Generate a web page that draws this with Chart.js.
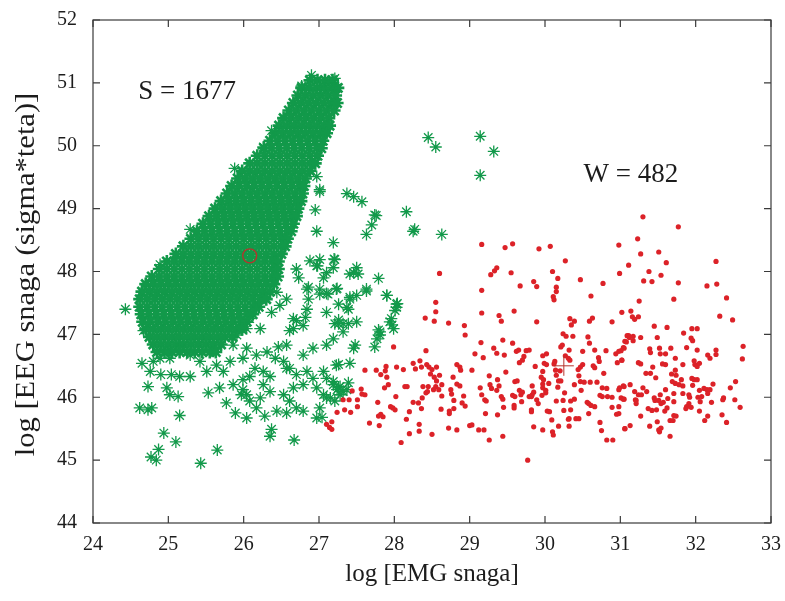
<!DOCTYPE html>
<html>
<head>
<meta charset="utf-8">
<script src="https://cdn.jsdelivr.net/npm/chart.js@4.4.1/dist/chart.umd.min.js"></script>
<style>
  html, body { margin: 0; padding: 0; background: #fff; }
  #wrap { width: 785px; height: 601px; }
</style>
</head>
<body>
<div id="wrap"><canvas id="chart" width="785" height="601"></canvas></div>
<script>
// axis ticks
const xTicks = [24, 25, 26, 27, 28, 29, 30, 31, 32, 33];
const yTicks = [44, 45, 46, 47, 48, 49, 50, 51, 52];

// sleep (S) - dense core, one row per EEG level: [eeg, [emg values...]]
const sleepRows = [
  [51.04, [26.88, 26.98, 27.08, 27.18]],
  [50.92, [26.77, 26.87, 26.97, 27.07, 27.17, 27.25]],
  [50.80, [26.72, 26.82, 26.92, 27.02, 27.12, 27.22]],
  [50.68, [26.66, 26.76, 26.86, 26.96, 27.06, 27.16, 27.24]],
  [50.56, [26.60, 26.70, 26.80, 26.90, 27.00, 27.10, 27.20]],
  [50.44, [26.53, 26.63, 26.73, 26.83, 26.93, 27.03, 27.13]],
  [50.32, [26.47, 26.57, 26.67, 26.77, 26.87, 26.97, 27.07, 27.14]],
  [50.20, [26.42, 26.52, 26.62, 26.72, 26.82, 26.92, 27.02, 27.10]],
  [50.08, [26.35, 26.45, 26.55, 26.65, 26.75, 26.85, 26.95, 27.05]],
  [49.96, [26.27, 26.37, 26.47, 26.57, 26.67, 26.77, 26.87, 26.97, 27.03]],
  [49.84, [26.18, 26.28, 26.38, 26.48, 26.58, 26.68, 26.78, 26.88, 26.98]],
  [49.72, [26.08, 26.18, 26.28, 26.38, 26.48, 26.58, 26.68, 26.78, 26.88, 26.95]],
  [49.60, [25.98, 26.08, 26.18, 26.28, 26.38, 26.48, 26.58, 26.68, 26.78, 26.88]],
  [49.48, [25.92, 26.02, 26.12, 26.22, 26.32, 26.42, 26.52, 26.62, 26.72, 26.82]],
  [49.36, [25.84, 25.94, 26.04, 26.14, 26.24, 26.34, 26.44, 26.54, 26.64, 26.74, 26.80]],
  [49.24, [25.78, 25.88, 25.98, 26.08, 26.18, 26.28, 26.38, 26.48, 26.58, 26.68, 26.78]],
  [49.12, [25.70, 25.80, 25.90, 26.00, 26.10, 26.20, 26.30, 26.40, 26.50, 26.60, 26.70, 26.76]],
  [49.00, [25.62, 25.72, 25.82, 25.92, 26.02, 26.12, 26.22, 26.32, 26.42, 26.52, 26.62, 26.72]],
  [48.88, [25.54, 25.64, 25.74, 25.84, 25.94, 26.04, 26.14, 26.24, 26.34, 26.44, 26.54, 26.64, 26.70]],
  [48.76, [25.46, 25.56, 25.66, 25.76, 25.86, 25.96, 26.06, 26.16, 26.26, 26.36, 26.46, 26.56, 26.66]],
  [48.64, [25.38, 25.48, 25.58, 25.68, 25.78, 25.88, 25.98, 26.08, 26.18, 26.28, 26.38, 26.48, 26.58, 26.63]],
  [48.52, [25.30, 25.40, 25.50, 25.60, 25.70, 25.80, 25.90, 26.00, 26.10, 26.20, 26.30, 26.40, 26.50, 26.58]],
  [48.40, [25.20, 25.30, 25.40, 25.50, 25.60, 25.70, 25.80, 25.90, 26.00, 26.10, 26.20, 26.30, 26.40, 26.50, 26.55]],
  [48.28, [25.10, 25.20, 25.30, 25.40, 25.50, 25.60, 25.70, 25.80, 25.90, 26.00, 26.10, 26.20, 26.30, 26.40, 26.50]],
  [48.16, [24.98, 25.08, 25.18, 25.28, 25.38, 25.48, 25.58, 25.68, 25.78, 25.88, 25.98, 26.08, 26.18, 26.28, 26.38, 26.46]],
  [48.04, [24.88, 24.98, 25.08, 25.18, 25.28, 25.38, 25.48, 25.58, 25.68, 25.78, 25.88, 25.98, 26.08, 26.18, 26.28, 26.38, 26.46]],
  [47.92, [24.78, 24.88, 24.98, 25.08, 25.18, 25.28, 25.38, 25.48, 25.58, 25.68, 25.78, 25.88, 25.98, 26.08, 26.18, 26.28, 26.38, 26.45]],
  [47.80, [24.70, 24.80, 24.90, 25.00, 25.10, 25.20, 25.30, 25.40, 25.50, 25.60, 25.70, 25.80, 25.90, 26.00, 26.10, 26.20, 26.30, 26.40]],
  [47.68, [24.65, 24.75, 24.85, 24.95, 25.05, 25.15, 25.25, 25.35, 25.45, 25.55, 25.65, 25.75, 25.85, 25.95, 26.05, 26.15, 26.25, 26.35]],
  [47.56, [24.62, 24.72, 24.82, 24.92, 25.02, 25.12, 25.22, 25.32, 25.42, 25.52, 25.62, 25.72, 25.82, 25.92, 26.02, 26.12, 26.22, 26.30]],
  [47.44, [24.62, 24.72, 24.82, 24.92, 25.02, 25.12, 25.22, 25.32, 25.42, 25.52, 25.62, 25.72, 25.82, 25.92, 26.02, 26.12, 26.20]],
  [47.32, [24.64, 24.74, 24.84, 24.94, 25.04, 25.14, 25.24, 25.34, 25.44, 25.54, 25.64, 25.74, 25.84, 25.94, 26.04, 26.12]],
  [47.20, [24.66, 24.76, 24.86, 24.96, 25.06, 25.16, 25.26, 25.36, 25.46, 25.56, 25.66, 25.76, 25.86, 25.96, 26.04]],
  [47.08, [24.70, 24.80, 24.90, 25.00, 25.10, 25.20, 25.30, 25.40, 25.50, 25.60, 25.70, 25.80, 25.90, 25.98]],
  [46.96, [24.75, 24.85, 24.95, 25.05, 25.15, 25.25, 25.35, 25.45, 25.55, 25.65, 25.75, 25.85]],
  [46.84, [24.80, 24.90, 25.00, 25.10, 25.20, 25.30, 25.40, 25.50, 25.60, 25.70]],
  [46.72, [24.85, 24.95, 25.05, 25.15, 25.25, 25.35, 25.45, 25.55, 25.63]]
];

// sleep (S) - scattered points outside the core: [emg, eeg]
const sleepScatter = [
  [26.90, 51.12], [27.21, 51.07], [27.12, 51.02], [27.23, 50.92], [26.77, 50.95], [27.06, 50.90],
  [26.37, 50.24], [26.26, 49.98], [25.88, 49.64], [27.01, 49.30], [26.97, 49.51], [26.95, 48.98],
  [27.37, 49.24], [27.46, 49.19], [27.57, 49.11], [25.29, 48.67], [26.97, 48.64], [27.74, 48.90],
  [27.70, 48.74], [27.63, 48.59], [28.16, 48.95], [28.25, 48.64], [27.19, 48.46], [27.21, 48.19],
  [26.88, 48.17], [27.01, 48.19], [27.50, 48.06], [24.89, 48.11], [28.45, 50.13], [28.55, 49.98],
  [29.14, 50.15], [29.32, 49.91], [29.14, 49.53], [27.01, 49.27], [28.63, 48.59], [27.52, 47.96],
  [27.79, 47.89], [27.63, 47.69], [27.90, 47.62], [28.03, 47.48], [28.01, 47.38], [27.94, 47.20],
  [27.99, 47.09], [27.81, 47.04], [27.41, 47.59], [27.37, 47.43], [27.10, 47.35], [27.21, 47.17],
  [27.39, 47.17], [26.86, 47.56], [27.01, 47.64], [26.84, 47.72], [26.70, 47.22], [26.82, 47.27],
  [26.66, 47.09], [26.73, 47.90], [26.98, 48.09], [24.43, 47.40], [24.67, 47.06], [24.65, 46.54],
  [24.73, 46.17], [24.62, 45.83], [24.73, 45.80], [24.78, 45.83], [25.15, 45.71], [24.94, 45.43],
  [25.10, 45.29], [24.87, 45.17], [24.77, 45.05], [24.84, 45.00], [25.43, 44.95], [25.65, 45.16],
  [25.02, 46.04], [25.13, 46.01], [24.90, 46.36], [25.04, 46.36], [25.15, 46.33], [25.29, 46.33],
  [24.98, 46.15], [25.53, 46.07], [25.68, 46.15], [25.77, 45.91], [25.89, 45.75], [26.04, 45.67],
  [25.97, 46.04], [25.99, 46.12], [25.86, 46.20], [25.99, 46.28], [26.08, 46.33], [26.15, 46.46],
  [26.26, 46.41], [26.35, 46.33], [26.28, 45.70], [26.37, 45.49], [26.35, 45.38], [26.67, 45.32],
  [26.44, 45.78], [26.57, 45.75], [26.70, 45.83], [26.79, 45.78], [26.97, 45.67], [27.01, 45.83],
  [27.15, 45.99], [27.26, 46.15], [27.32, 46.09], [26.61, 46.46], [26.70, 46.36], [26.84, 46.41],
  [26.92, 46.30], [27.06, 46.41], [26.79, 46.20], [26.66, 46.15], [26.53, 46.04], [26.61, 45.94],
  [27.06, 46.04], [26.97, 46.15], [27.19, 46.25], [27.28, 46.17], [27.37, 46.12], [26.26, 46.20],
  [26.35, 46.09], [26.22, 45.99], [26.08, 45.94], [26.17, 45.83], [26.04, 46.04], [26.53, 46.57],
  [26.57, 46.46], [26.79, 46.67], [26.92, 46.78], [27.23, 46.51], [27.41, 46.54], [27.46, 46.78],
  [27.10, 46.83], [27.19, 46.93], [27.32, 47.17], [27.32, 47.04], [27.48, 46.83], [27.50, 47.20],
  [27.77, 46.93], [27.74, 46.80], [27.81, 46.99], [27.96, 47.25], [28.03, 47.43], [27.90, 47.62],
  [27.63, 47.72], [27.50, 47.62], [27.41, 47.56], [27.46, 47.98], [27.26, 47.48], [27.39, 47.40],
  [27.26, 47.17], [26.84, 47.40], [26.66, 47.25], [26.79, 47.14], [26.61, 47.06], [26.57, 46.83],
  [26.46, 46.80], [26.42, 46.62], [26.31, 46.72], [26.70, 48.04], [26.97, 48.09], [27.10, 47.98],
  [27.19, 48.06], [26.86, 47.75], [27.01, 47.72], [27.12, 47.64], [27.23, 47.72], [27.06, 47.90],
  [26.44, 47.67], [26.57, 47.56], [26.48, 47.46], [26.37, 47.35], [26.17, 47.40], [26.08, 47.25],
  [26.04, 47.09], [26.22, 47.09], [25.91, 46.99], [25.86, 46.83], [26.04, 46.78], [26.17, 46.67],
  [25.99, 46.62], [25.82, 46.57], [25.73, 46.41], [25.64, 46.51], [25.51, 46.41], [25.42, 46.57],
  [25.29, 46.67], [25.15, 46.78], [25.02, 46.62], [24.80, 46.57], [24.76, 46.41], [24.89, 46.62],
  [24.98, 46.72], [27.26, 46.52], [27.10, 46.30], [27.19, 46.20], [27.24, 46.12], [27.28, 46.04],
  [27.39, 46.23], [27.10, 45.99], [27.21, 45.94], [27.04, 45.68], [27.76, 48.89], [28.27, 48.67],
  [27.20, 48.20], [27.41, 47.96], [28.04, 47.49], [27.24, 47.73], [27.10, 47.65], [27.97, 47.15],
  [27.26, 47.23], [27.79, 47.07]
];

// wake (W) points: [emg, eeg]
const wakePoints = [
  [28.60, 47.97], [28.55, 47.51], [28.55, 47.36], [28.41, 47.26], [28.53, 47.21], [28.72, 47.18], [28.93, 47.14],
  [29.16, 48.43], [29.47, 48.38], [29.57, 48.44], [29.92, 48.36], [30.07, 48.40], [30.27, 48.17], [29.28, 47.95],
  [29.33, 48.01], [29.36, 48.06], [29.55, 47.98], [30.10, 48.00], [30.17, 47.89], [30.47, 47.87], [30.77, 47.81],
  [29.16, 47.70], [29.67, 47.77], [29.85, 47.84], [29.89, 47.76], [30.15, 47.75], [30.15, 47.68], [30.11, 47.60],
  [30.12, 47.55], [30.61, 47.61], [30.98, 48.42], [30.99, 47.97], [29.16, 47.34], [29.39, 47.30], [29.42, 47.21],
  [29.59, 47.37], [29.89, 47.20], [30.33, 47.25], [30.39, 47.21], [30.35, 47.15], [30.59, 47.21], [30.63, 47.26],
  [30.89, 47.20],
  [31.30, 48.87], [31.77, 48.71], [31.23, 48.52], [31.27, 48.28], [31.51, 48.31], [31.61, 48.14], [31.11, 48.10],
  [32.27, 48.16], [31.38, 48.00], [31.54, 47.94], [31.31, 47.85], [31.42, 47.84], [31.77, 47.82], [32.15, 47.77],
  [32.28, 47.80], [31.25, 47.53], [31.71, 47.56], [32.41, 47.58], [31.02, 47.35], [31.14, 47.37], [31.16, 47.28],
  [31.19, 47.24], [31.24, 47.28], [32.32, 47.29], [32.49, 47.23], [31.45, 47.13], [31.62, 47.11], [31.95, 47.09],
  [32.02, 47.09],
  [28.94, 46.99], [27.99, 46.80], [28.42, 46.74], [27.61, 46.43], [27.76, 46.43], [27.82, 46.36], [27.88, 46.42],
  [27.89, 46.49], [27.90, 46.32], [28.03, 46.48], [28.12, 46.44], [28.25, 46.54], [28.34, 46.58], [28.36, 46.48],
  [28.28, 46.45], [28.43, 46.52], [28.46, 46.48], [28.50, 46.44], [28.56, 46.48], [28.48, 46.37], [28.53, 46.32],
  [28.56, 46.26], [28.60, 46.35], [28.63, 46.20], [28.55, 46.17], [28.59, 46.12], [28.52, 46.12], [28.45, 46.17],
  [28.38, 46.17], [28.42, 46.07], [28.37, 45.99], [28.25, 45.92], [28.32, 45.91], [28.36, 45.82], [28.20, 45.77],
  [28.16, 45.65], [28.33, 45.57], [28.33, 45.46], [28.20, 45.42], [28.50, 45.41], [28.09, 45.28], [28.14, 46.17],
  [28.17, 46.17], [28.02, 46.01], [27.95, 45.85], [27.98, 45.83], [28.01, 45.80], [27.78, 45.92], [27.82, 45.73],
  [27.85, 45.69], [27.79, 45.70], [27.67, 45.59], [27.80, 45.55], [27.87, 46.15], [27.92, 46.20], [27.61, 46.04],
  [27.57, 46.05], [27.56, 46.13], [27.51, 45.96], [27.51, 45.85], [27.40, 45.96], [27.42, 45.76], [27.34, 45.80],
  [27.24, 45.76], [27.44, 46.10], [27.32, 45.96], [27.17, 45.61], [27.10, 45.57], [27.14, 45.52], [27.17, 45.49],
  [28.63, 46.02], [28.75, 46.12], [28.76, 46.05], [28.78, 46.32], [28.83, 46.52], [28.87, 46.48], [28.88, 46.43],
  [28.83, 46.21], [28.87, 46.18], [28.92, 46.02], [28.79, 45.95], [28.90, 45.91], [28.94, 45.86], [28.79, 45.82],
  [28.73, 45.74], [28.73, 45.78], [28.62, 45.81], [28.72, 45.51], [28.83, 45.48], [29.00, 45.55], [28.44, 46.09],
  [29.15, 46.87], [29.44, 46.91], [29.57, 46.86], [29.32, 46.78], [29.36, 46.70], [29.07, 46.69], [29.18, 46.63],
  [29.46, 46.67], [29.62, 46.73], [29.65, 46.75], [29.75, 46.74], [29.79, 46.75], [29.72, 46.65], [29.70, 46.59],
  [29.66, 46.55], [29.97, 46.66], [30.02, 46.69], [29.99, 46.54], [30.02, 46.52], [30.12, 46.53], [30.13, 46.57],
  [30.24, 47.01], [30.28, 46.97], [30.37, 46.97], [30.57, 46.96], [30.59, 46.86], [30.21, 46.80], [30.23, 46.83],
  [30.32, 46.75], [30.27, 46.66], [30.31, 46.62], [30.33, 46.59], [30.50, 46.73], [30.66, 46.75], [30.81, 46.74],
  [30.71, 46.63], [30.72, 46.57], [30.50, 46.52], [30.47, 46.48], [30.44, 46.44], [30.64, 46.50], [30.66, 46.47],
  [30.78, 46.38], [30.94, 46.69], [30.98, 46.73], [31.05, 46.78], [31.08, 46.88], [31.11, 46.98], [31.02, 46.59],
  [30.96, 46.55], [29.03, 46.43], [29.26, 46.34], [29.37, 46.28], [29.48, 46.40], [29.60, 46.25], [29.63, 46.26],
  [29.27, 46.20], [29.29, 46.14], [29.39, 46.18], [29.36, 46.11], [29.14, 46.15], [29.16, 46.04], [29.20, 45.96],
  [29.22, 45.94], [29.42, 46.01], [29.44, 45.97], [29.45, 45.84], [29.57, 46.03], [29.60, 46.01], [29.66, 46.11],
  [29.70, 46.08], [29.68, 46.04], [29.69, 45.93], [29.59, 45.87], [29.59, 45.83], [29.83, 46.18], [29.85, 46.08],
  [29.79, 46.01], [29.82, 46.01], [29.83, 46.04], [29.89, 45.96], [29.91, 45.90], [29.96, 46.03], [29.97, 46.15],
  [29.97, 46.21], [30.01, 46.11], [30.01, 46.07], [29.95, 46.32], [29.98, 46.28], [30.05, 46.22], [29.97, 46.41],
  [30.14, 46.43], [30.20, 46.42], [30.15, 46.35], [30.18, 46.26], [30.21, 46.26], [30.17, 46.16], [30.26, 46.07],
  [30.15, 45.94], [30.24, 45.95], [30.39, 46.20], [30.47, 46.25], [30.45, 46.34], [30.52, 46.24], [30.60, 46.24],
  [30.48, 46.11], [30.39, 45.97], [30.34, 45.94], [30.56, 45.92], [30.58, 45.90], [30.61, 45.87], [30.66, 45.85],
  [30.69, 46.24], [30.76, 46.15], [30.82, 46.14], [30.73, 46.03], [30.76, 46.01], [30.83, 46.01], [30.89, 46.00],
  [30.98, 46.12], [30.99, 46.15], [31.05, 46.17], [31.01, 45.99], [31.05, 45.97], [30.98, 45.85], [30.95, 45.73],
  [30.98, 45.74], [30.89, 45.84], [31.06, 45.50], [29.03, 45.56], [29.21, 45.74], [29.37, 45.72], [29.12, 45.48],
  [29.19, 45.48], [29.26, 45.32], [29.44, 45.38], [29.82, 45.80], [29.82, 45.77], [29.85, 45.53], [29.97, 45.48],
  [30.03, 45.78], [30.06, 45.77], [30.09, 45.64], [30.10, 45.45], [30.11, 45.40], [30.18, 45.54], [30.25, 45.79],
  [30.32, 45.66], [30.31, 45.65], [30.32, 45.54], [30.34, 45.80], [30.41, 45.66], [30.45, 45.66], [30.58, 45.74],
  [30.73, 45.60], [30.75, 45.47], [30.82, 45.32], [30.90, 45.32], [29.77, 45.00], [29.87, 46.49],
  [31.09, 46.98], [31.12, 46.95], [31.17, 46.97], [31.17, 46.90], [31.27, 46.95], [31.49, 46.95], [31.84, 47.02],
  [31.94, 46.94], [31.96, 46.90], [31.06, 46.89], [31.04, 46.79], [31.01, 46.74], [31.02, 46.59], [31.39, 46.77],
  [31.40, 46.71], [31.52, 46.78], [31.53, 46.69], [31.60, 46.69], [31.67, 46.78], [31.73, 46.62], [31.88, 46.79],
  [32.02, 46.75], [32.16, 46.67], [32.19, 46.62], [32.27, 46.75], [32.27, 46.68], [32.63, 46.81], [32.62, 46.61],
  [31.24, 46.55], [31.27, 46.53], [31.43, 46.48], [31.56, 46.53], [31.60, 46.52], [31.83, 46.52], [31.98, 46.58],
  [31.99, 46.52], [32.02, 46.49], [32.05, 46.54], [31.34, 46.38], [31.40, 46.38], [31.47, 46.31], [31.68, 46.37],
  [31.73, 46.43], [31.74, 46.35], [31.69, 46.25], [31.73, 46.22], [31.78, 46.20], [31.83, 46.18], [31.81, 46.28],
  [31.95, 46.30], [31.98, 46.28], [32.02, 46.28], [31.96, 46.19], [32.11, 46.14], [32.15, 46.12], [32.19, 46.12],
  [32.23, 46.21], [32.05, 46.11], [32.03, 46.00], [32.08, 46.01], [32.16, 46.06], [31.91, 46.04], [31.92, 46.00],
  [31.91, 45.90], [31.88, 45.85], [31.87, 45.82], [31.94, 45.84], [32.06, 45.93], [32.05, 45.78], [32.21, 45.92],
  [32.16, 45.70], [32.12, 45.63], [32.36, 45.96], [32.37, 45.99], [32.46, 46.15], [32.53, 46.25], [32.52, 45.96],
  [32.59, 45.84], [32.35, 45.72], [32.41, 45.60], [31.04, 46.18], [31.19, 46.09], [31.24, 46.04], [31.28, 46.04],
  [31.20, 45.96], [31.21, 45.95], [31.21, 45.90], [31.35, 46.09], [31.30, 46.15], [31.13, 46.20], [31.45, 45.99],
  [31.46, 45.95], [31.51, 45.95], [31.53, 46.04], [31.54, 45.90], [31.57, 45.92], [31.60, 46.12], [31.63, 45.98],
  [31.71, 46.06], [31.83, 46.06], [31.71, 45.93], [31.37, 45.82], [31.42, 45.79], [31.48, 45.80], [31.59, 45.78],
  [31.62, 45.83], [31.27, 45.70], [31.49, 45.61], [31.66, 45.63], [31.70, 45.63], [31.71, 45.71], [31.74, 45.70],
  [31.39, 45.54], [31.51, 45.48], [31.54, 45.51], [31.52, 45.45], [31.66, 45.38], [31.06, 45.50], [31.13, 45.55],
  [31.04, 45.97]
];

// class centres
const sleepCentre = [26.08, 48.25];
const wakeCentre = [30.25, 46.50];

const sleepLabel = 'S = 1677';
const wakeLabel = 'W = 482';
const sleepLabelAt = [24.60, 50.85];
const wakeLabelAt = [30.51, 49.53];
const yTitle = 'log [EEG snaga (sigma*teta)]';

const serif = '"Liberation Serif", "Times New Roman", serif';
const GREEN = '#12994a';
const RED = '#dc2228';

const toXY = p => ({ x: p[0], y: p[1] });
const coreData = [];
sleepRows.forEach(r => r[1].forEach(v => coreData.push({ x: v, y: r[0] })));

// matlab-like box with inward ticks + the S/W counts + the (wide) y title
const boxPlugin = {
  id: 'boxPlugin',
  afterDatasetsDraw(chart) {
    const { ctx, chartArea: a, scales: { x, y } } = chart;
    ctx.save();
    ctx.strokeStyle = '#3a3a3a';
    ctx.lineWidth = 1.2;
    ctx.strokeRect(a.left, a.top, a.right - a.left, a.bottom - a.top);
    ctx.beginPath();
    xTicks.forEach(v => {
      const px = x.getPixelForValue(v);
      ctx.moveTo(px, a.bottom); ctx.lineTo(px, a.bottom - 7);
      ctx.moveTo(px, a.top); ctx.lineTo(px, a.top + 7);
    });
    yTicks.forEach(v => {
      const py = y.getPixelForValue(v);
      ctx.moveTo(a.left, py); ctx.lineTo(a.left + 7, py);
      ctx.moveTo(a.right, py); ctx.lineTo(a.right - 7, py);
    });
    ctx.stroke();

    ctx.fillStyle = '#1c1c1c';
    ctx.font = '27px ' + serif;
    ctx.textBaseline = 'middle';
    ctx.textAlign = 'left';
    ctx.fillText(sleepLabel, x.getPixelForValue(sleepLabelAt[0]), y.getPixelForValue(sleepLabelAt[1]));
    ctx.fillText(wakeLabel, x.getPixelForValue(wakeLabelAt[0]), y.getPixelForValue(wakeLabelAt[1]));

    ctx.translate(27, (a.top + a.bottom) / 2 + 3);
    ctx.rotate(-Math.PI / 2);
    ctx.scale(1.13, 1);
    ctx.textAlign = 'center';
    ctx.fillText(yTitle, 0, 0);
    ctx.restore();
  }
};

new Chart(document.getElementById('chart'), {
  type: 'scatter',
  data: {
    datasets: [
      {
        label: 'S centre',
        data: [toXY(sleepCentre)],
        pointStyle: 'circle',
        pointRadius: 7,
        backgroundColor: 'rgba(0,0,0,0)',
        borderColor: '#b5342c',
        borderWidth: 1.3
      },
      {
        label: 'W centre',
        data: [toXY(wakeCentre)],
        pointStyle: 'cross',
        pointRadius: 10,
        borderColor: '#b5342c',
        borderWidth: 1
      },
      {
        label: 'W',
        data: wakePoints.map(toXY),
        pointStyle: 'circle',
        pointRadius: 2.6,
        backgroundColor: RED,
        borderColor: RED,
        borderWidth: 0
      },
      {
        label: 'S',
        data: sleepScatter.map(toXY),
        pointStyle: 'star',
        pointRadius: 6,
        backgroundColor: GREEN,
        borderColor: GREEN,
        borderWidth: 1.3
      },
      {
        label: 'S core',
        data: coreData,
        pointStyle: 'star',
        pointRadius: 6.5,
        backgroundColor: GREEN,
        borderColor: GREEN,
        borderWidth: 2.6
      }
    ]
  },
  options: {
    responsive: false,
    animation: false,
    devicePixelRatio: 1,
    events: [],
    layout: { padding: { top: 15, right: 14, left: 0, bottom: 0 } },
    plugins: {
      legend: { display: false },
      tooltip: { enabled: false }
    },
    scales: {
      x: {
        type: 'linear',
        min: 24, max: 33,
        afterBuildTicks: s => { s.ticks = xTicks.map(v => ({ value: v })); },
        afterFit: s => { s.height = 78; },
        grid: { display: false },
        border: { display: false },
        ticks: { color: '#1c1c1c', font: { family: serif, size: 20 }, padding: 2, maxRotation: 0 },
        title: {
          display: true,
          text: 'log [EMG snaga]',
          color: '#1c1c1c',
          font: { family: serif, size: 25 },
          padding: { top: 0, bottom: 12 }
        }
      },
      y: {
        type: 'linear',
        min: 44, max: 52,
        afterBuildTicks: s => { s.ticks = yTicks.map(v => ({ value: v })); },
        afterFit: s => { s.width = 93; },
        grid: { display: false },
        border: { display: false },
        ticks: { color: '#1c1c1c', font: { family: serif, size: 20 }, padding: 8 }
      }
    }
  },
  plugins: [boxPlugin]
});
</script>
</body>
</html>
